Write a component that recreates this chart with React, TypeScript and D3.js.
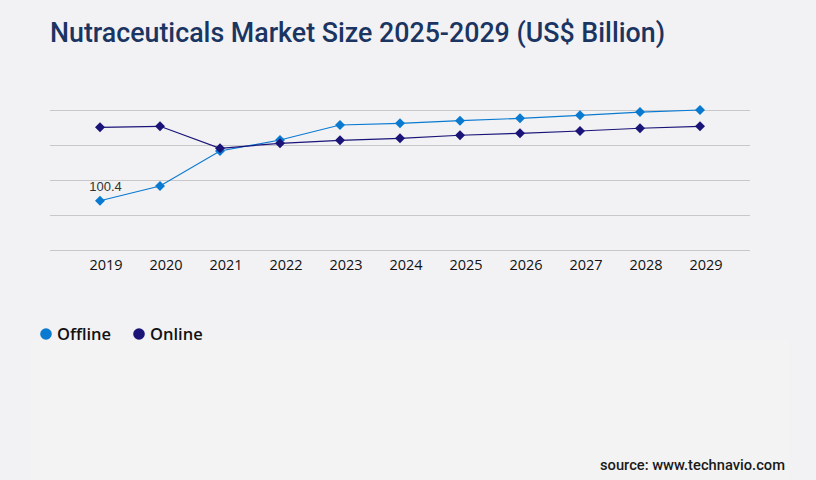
import React from "react";
import * as d3 from "d3";

const years = ["2019", "2020", "2021", "2022", "2023", "2024", "2025", "2026", "2027", "2028", "2029"];
const offline = [100.4, 121.4, 171.4, 187.1, 208.6, 211.0, 214.7, 218.1, 222.4, 227.1, 230.0];
const online = [205.3, 206.7, 175.3, 182.4, 186.7, 189.6, 193.9, 196.7, 200.0, 203.9, 206.7];
const gridTicks = [30, 80, 130, 180, 230];
const seriesNames = ["Offline", "Online"];
const seriesColors = ["#0a7ad1", "#1a1478"];

const W = 816;
const H = 480;

export default function App() {
  const x = d3.scalePoint<string>().domain(years).range([100, 700]);
  const y = d3.scaleLinear().domain([30, 230]).range([250, 110]);
  const line = d3
    .line<number>()
    .x((_, i) => x(years[i]) as number)
    .y((d) => y(d));
  const diamond = d3.symbol().type(d3.symbolSquare).size(50)();
  const series = [offline, online];

  return (
    <div style={{ position: "absolute", left: 0, top: 0 }}>
      <svg width={W} height={H} style={{ display: "block" }}>
        <rect x={0} y={0} width={W} height={H} fill="#f2f2f4" />
        <rect x={31} y={340} width={758} height={140} fill="#f3f3f3" />
        <text
          x={50}
          y={42}
          fontFamily="Roboto"
          fontWeight={500}
          fontSize={28}
          fill="#1b3562"
          textLength={615}
          lengthAdjust="spacingAndGlyphs"
        >
          Nutraceuticals Market Size 2025-2029 (US$ Billion)
        </text>
        {gridTicks.map((t) => (
          <line key={t} x1={50} x2={750} y1={y(t) + 0.5} y2={y(t) + 0.5} stroke="#c8c8c8" strokeWidth={1} />
        ))}
        {years.map((yr) => (
          <text
            key={yr}
            x={(x(yr) as number) + 6}
            y={270}
            textAnchor="middle"
            fontFamily="Open Sans"
            fontSize={14.5}
            fill="#111"
          >
            {yr}
          </text>
        ))}
        {series.map((s, si) => (
          <g key={si}>
            <path d={line(s) || ""} fill="none" stroke={seriesColors[si]} strokeWidth={1.2} />
            {s.map((v, i) => (
              <path
                key={i}
                d={diamond || ""}
                transform={`translate(${x(years[i])},${y(v)}) rotate(45)`}
                fill={seriesColors[si]}
              />
            ))}
          </g>
        ))}
        <text x={105.5} y={191} textAnchor="middle" fontFamily="Liberation Sans" fontSize={13} fill="#333">
          {offline[0]}
        </text>
        {seriesNames.map((n, i) => (
          <g key={n} transform={`translate(${46 + i * 93},334)`}>
            <circle r={5.8} fill={seriesColors[i]} />
            <text x={11} y={6} fontFamily="Open Sans" fontWeight={600} fontSize={16.5} fill="#111">
              {n}
            </text>
          </g>
        ))}
        <text
          x={785}
          y={470}
          textAnchor="end"
          fontFamily="Roboto"
          fontWeight={500}
          fontSize={14}
          fill="#1a1a1a"
          textLength={185}
          lengthAdjust="spacingAndGlyphs"
        >
          source: www.technavio.com
        </text>
      </svg>
    </div>
  );
}
